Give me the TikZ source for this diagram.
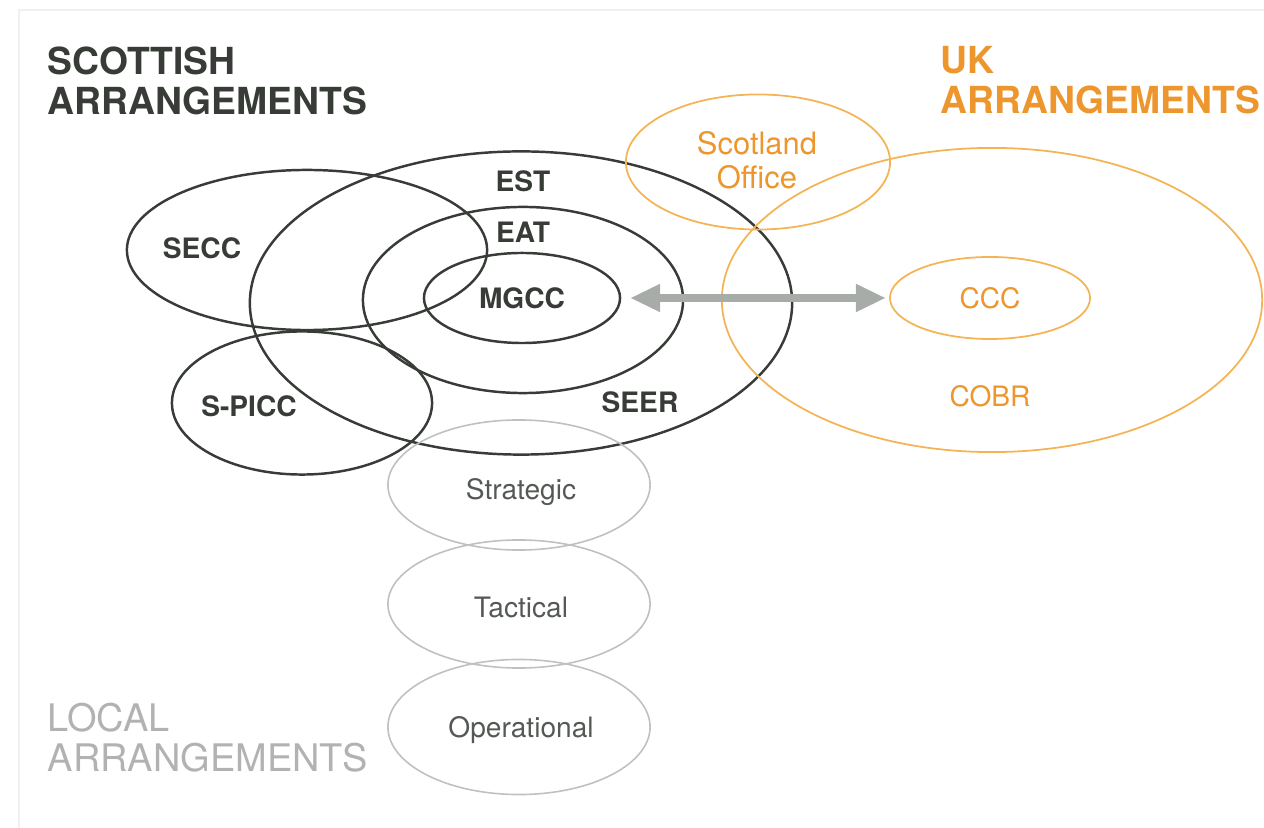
\documentclass[tikz,border=0pt]{standalone}
\usepackage{fontspec}
\setmainfont{TeX Gyre Heros}
\usetikzlibrary{positioning, shapes.geometric, arrows.meta}
\definecolor{scotC}{RGB}{55, 60, 55}
\definecolor{ukC}{RGB}{236, 150, 45}
\definecolor{ukLine}{RGB}{244, 180, 85}
\definecolor{localC}{RGB}{178, 178, 178}
\definecolor{localLine}{RGB}{192, 192, 192}
\definecolor{linkC}{RGB}{168, 172, 168}

\begin{document}
\begin{tikzpicture}[x=0.01cm, y=-0.01cm,
    ring/.style={ellipse, draw=scotC, line width=0.7pt, inner sep=0pt, outer sep=0pt,
                 text=scotC, font=\bfseries\fontsize{8}{9.5}\selectfont},
    ukring/.style={ellipse, draw=ukLine, line width=0.5pt, inner sep=0pt, outer sep=0pt},
    localring/.style={ellipse, draw=localLine, line width=0.45pt, inner sep=0pt,
                      minimum width=2.62cm},
    tag/.style={font=\bfseries\fontsize{8}{9.5}\selectfont, text=scotC, inner sep=0pt},
    uktag/.style={text=ukC, inner sep=0pt, align=center},
    localtag/.style={text=scotC!85, inner sep=0pt, font=\fontsize{8}{9.5}\selectfont},
    heading/.style={anchor=north west, align=left, inner sep=0pt,
                    font=\bfseries\fontsize{10.6}{11.4}\selectfont},
    link/.style={linkC, line width=2.3pt,
                 {Triangle[length=3mm, width=2.6mm]}-{Triangle[length=3mm, width=2.6mm]}}]
        \useasboundingbox (0, 0) rectangle (1264, 828);

        % ── scan frame ──────────────────────────────────────────────────
        \draw[gray!12, line width=0.6pt] (19, 828) -- (19, 10) -- (1264, 10);

        % ── Scottish arrangements ───────────────────────────────────────
        \node[heading, text=scotC] (scotHead) at (47, 46)
              {SCOTTISH\\ARRANGEMENTS};
        \node[ring, minimum width=3.6cm, minimum height=1.6cm] (secc) at (307, 250) {};
        \node[ring, minimum width=5.42cm, minimum height=3.03cm] (est) at (521, 303) {};
        \node[ring, minimum width=3.2cm, minimum height=1.86cm] (eat) at (523, 300) {};
        \node[ring, minimum width=1.96cm, minimum height=0.9cm] (mgcc) at (522, 298) {MGCC};
        \node[ring, minimum width=2.6cm, minimum height=1.43cm] (spicc) at (302, 403) {};

        \node[tag] at (202, 248) {SECC};
        \node[tag] at (523, 181) {EST};
        \node[tag] at (523, 232) {EAT};
        \node[tag] at (640, 402) {SEER};
        \node[tag] at (249, 406) {S-PICC};

        % ── UK arrangements ─────────────────────────────────────────────
        \node[heading, text=ukC] (ukHead) at (940, 46) {UK\\ARRANGEMENTS};
        \node[ukring, minimum width=2.64cm, minimum height=1.35cm] (scoff) at (758, 162) {};
        \node[ukring, minimum width=5.4cm, minimum height=3.04cm] (cobr) at (992, 300) {};
        \node[ukring, minimum width=2cm, minimum height=0.82cm] (ccc) at (990, 298) {};

        \node[uktag, font=\fontsize{8.8}{9.7}\selectfont] at (757, 160) {Scotland\\Office};
        \node[uktag, font=\fontsize{8}{9.5}\selectfont] at (990, 298) {CCC};
        \node[uktag, font=\fontsize{8}{9.5}\selectfont] at (990, 396) {COBR};

        \draw[link, shorten <=1mm, shorten >=0.4mm] (mgcc) -- (ccc);

        % ── Local arrangements ──────────────────────────────────────────
        \node[heading, text=localC, font=\fontsize{10.8}{11.4}\selectfont] (localHead)
              at (47, 702) {LOCAL\\ARRANGEMENTS};
        \node[localring, minimum height=1.3cm] (strat) at (519, 485) {};
        \node[localring, minimum height=1.28cm] (tact) at (519, 604) {};
        \node[localring, minimum height=1.35cm] (oper) at (519, 727) {};

        \node[localtag, anchor=base] at (521, 500) {Strategic};
        \node[localtag, anchor=base] at (521, 617) {Tactical};
        \node[localtag, anchor=base] at (521, 737) {Operational};
      \end{tikzpicture}
\end{document}
